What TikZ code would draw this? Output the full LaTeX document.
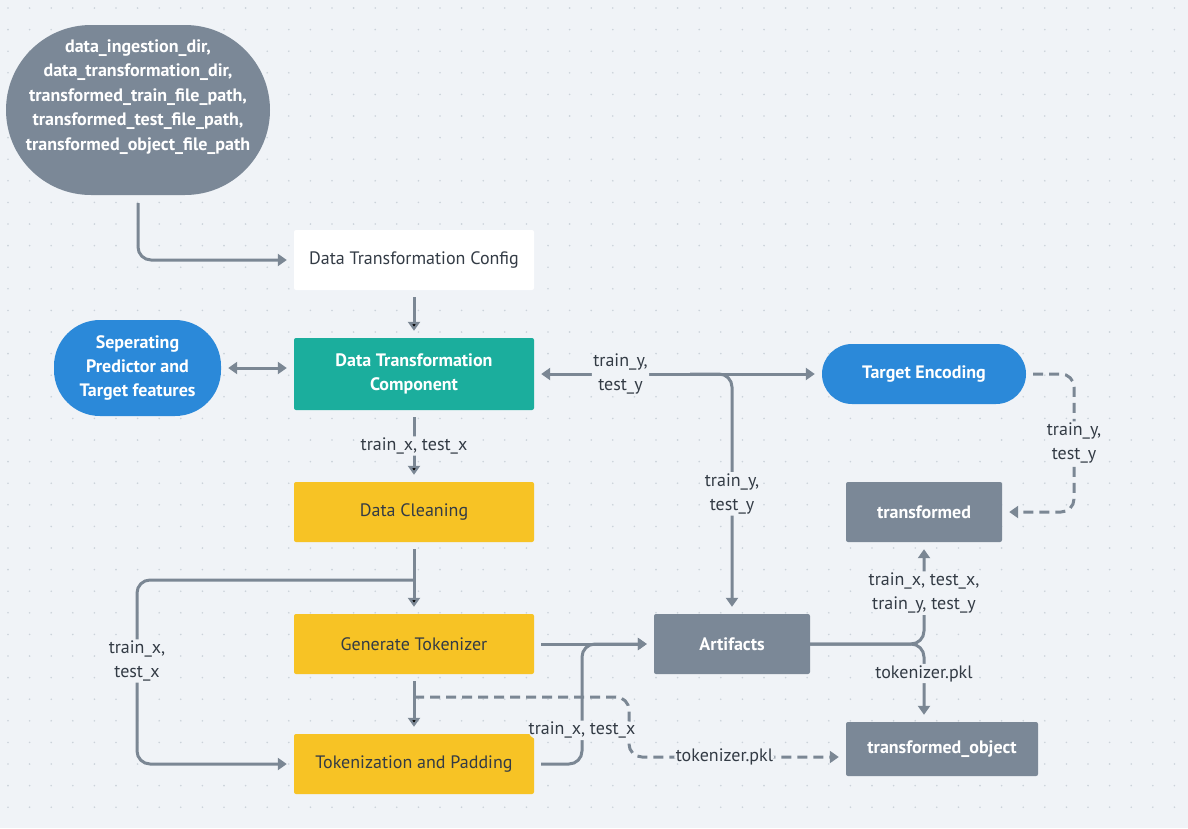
\documentclass[tikz,border=0pt]{standalone}
\usepackage{fontspec}
\setmainfont{PT Sans}
\usetikzlibrary{arrows.meta}

\definecolor{bgcol}{HTML}{F0F3F7}
\definecolor{dotcol}{HTML}{CBD2DA}
\definecolor{slatecol}{HTML}{7B8897}
\definecolor{linecol}{HTML}{7B8794}
\definecolor{tealcol}{HTML}{1BAE9D}
\definecolor{bluecol}{HTML}{2B89D9}
\definecolor{yellowcol}{HTML}{F7C325}
\definecolor{inkcol}{HTML}{333B45}

\begin{document}
\begin{tikzpicture}[x=1pt,y=-1pt,
  box node/.style={rectangle,rounded corners=2pt,minimum width=240pt,minimum height=60pt,inner sep=2pt,align=center,font=\fontsize{18}{24}\selectfont},
  step node/.style={box node,fill=yellowcol,text=inkcol},
  store node/.style={box node,fill=slatecol,text=white,font=\bfseries\fontsize{18}{24}\selectfont},
  pill node/.style={rectangle,rounded corners=30pt,fill=bluecol,text=white,align=center,inner sep=0pt,font=\bfseries\fontsize{18}{24}\selectfont},
  lbl/.style={fill=bgcol,text=inkcol,align=center,inner sep=1.5pt,font=\fontsize{18}{24}\selectfont},
  flow/.style={draw=linecol,line width=3pt,rounded corners=13pt,-{Triangle[length=9pt,width=12pt]},shorten >=7pt,shorten <=7pt},
  both/.style={{Triangle[length=9pt,width=12pt]}-{Triangle[length=9pt,width=12pt]}},
  dashflow/.style={flow,dash pattern=on 10pt off 6pt}
]

\useasboundingbox[fill=bgcol] (0,0) rectangle (1188,828);
\foreach \x in {8,29.6,...,1188}
  \foreach \y in {8,29.6,...,828}
    \fill[dotcol] (\x,\y) circle (0.9pt);

\node[pill node,fill=slatecol,minimum width=264pt,minimum height=170pt,rounded corners=85pt] (cfgvars) at (138,110) {};
\node[text=white,align=center,font=\bfseries\fontsize{18}{24.5}\selectfont] (cfgvarstext) at (138,97) {data\_ingestion\_dir,\\data\_transformation\_dir,\\transformed\_train\_file\_path,\\transformed\_test\_file\_path,\\transformed\_object\_file\_path};
\node[box node,fill=white,text=inkcol] (cfg) at (414,260) {Data Transformation Config};
\node[box node,fill=tealcol,text=white,font=\bfseries\fontsize{18}{24}\selectfont,minimum height=72pt] (comp) at (414,374) {Data Transformation\\Component};
\node[pill node,minimum width=167pt,minimum height=96pt,rounded corners=46pt] (sep) at (137.5,368) {Seperating\\Predictor and\\Target features};
\node[pill node,minimum width=204pt,minimum height=60pt] (tenc) at (924,374) {Target Encoding};
\node[step node] (clean) at (414,512) {Data Cleaning};
\node[step node] (gen) at (414,644) {Generate Tokenizer};
\node[step node] (tok) at (414,764) {Tokenization and Padding};
\node[store node,minimum width=156pt] (art) at (732,644) {Artifacts};
\node[store node,minimum width=156pt] (trans) at (924,512) {transformed};
\node[store node,minimum width=192pt,minimum height=54pt] (tobj) at (942,749) {transformed\_object};

\coordinate (ysplit) at (690,374);
\coordinate (yturn) at (1074,374);
\coordinate (xsplit) at (414,580);
\coordinate (xloop) at (137,580);
\coordinate (pklsplit) at (414,697);
\coordinate (pklturn) at (629,697);
\coordinate (tokjoin) at (582,644);
\coordinate (artsplit) at (924,644);

\draw[flow,shorten <=8pt] (cfgvars.south) |- (cfg.west);
\path (cfg) [flow] edge (comp);
\draw[flow,both] (sep.east) -- (sep.east -| comp.west);
\draw[flow,both] (comp.east) -- node[lbl,pos=0.3] {train\_y,\\test\_y} (tenc.west);
\draw[flow,shorten <=0pt] (ysplit) -| node[lbl,pos=0.75] {train\_y,\\test\_y} (art.north);
\draw[dashflow] (tenc.east) -- (yturn) |- node[lbl,pos=0.25] {train\_y,\\test\_y} (trans.east);
\path (comp) [flow] edge node[lbl] {train\_x, test\_x} (clean)
  (clean) [flow] edge (gen)
  (gen) [flow] edge (tok)
  (gen) [flow] edge (art);
\draw[flow,shorten <=0pt] (xsplit) -- (xloop) |- node[lbl,pos=0.22] {train\_x,\\test\_x} (tok.west);
\draw[dashflow,shorten <=0pt] (pklsplit) -- (pklturn) |- node[lbl,pos=0.72] {tokenizer.pkl} ([yshift=-8pt]tobj.west);
\draw[flow] (tok.east) -| node[lbl,pos=0.64] {train\_x, test\_x} (tokjoin) -- (art.west);
\draw[flow,shorten <=0pt] (art.east) -- (artsplit) -- node[lbl] {train\_x, test\_x,\\train\_y, test\_y} (trans.south);
\draw[flow,shorten <=0pt] (art.east) -- (artsplit) -- node[lbl,pos=0.38] {tokenizer.pkl} (artsplit |- tobj.north);

\end{tikzpicture}
\end{document}
